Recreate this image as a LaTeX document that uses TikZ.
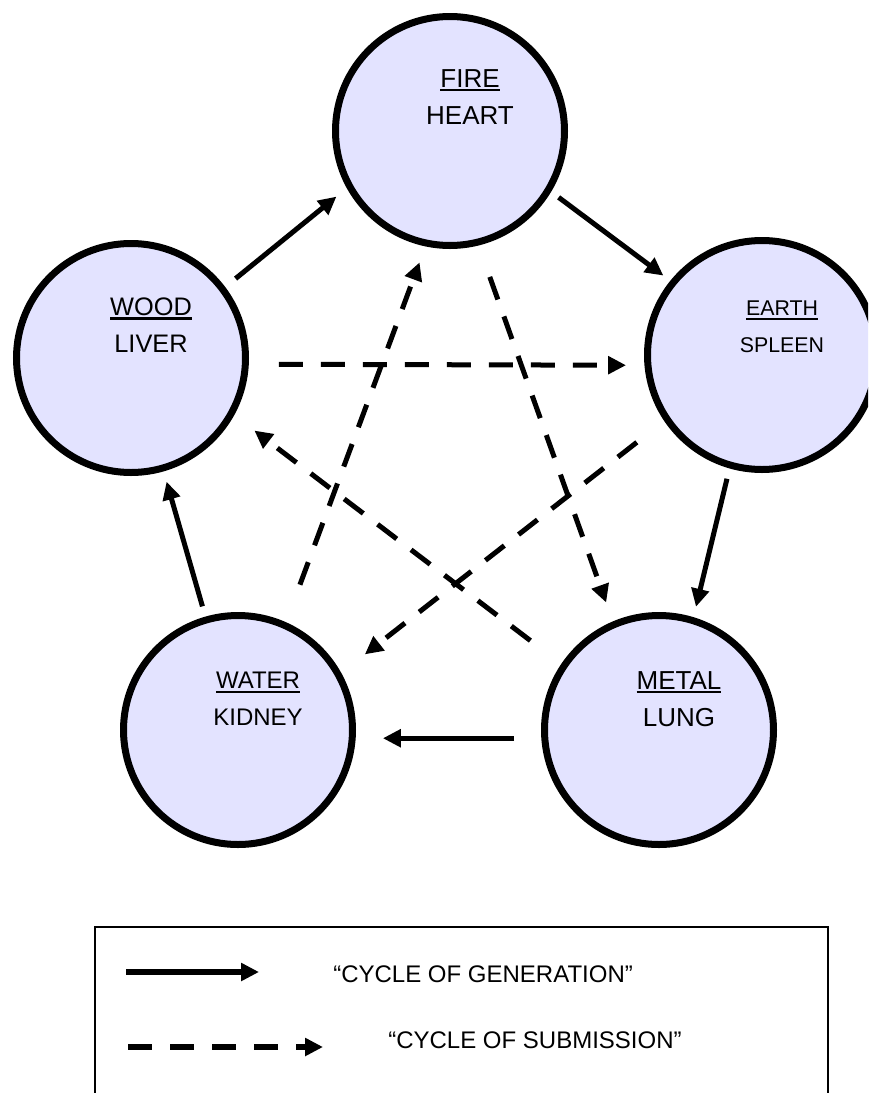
\documentclass[tikz,border=0pt]{standalone}
\usepackage{fontspec}
\setmainfont{Liberation Sans}
\usetikzlibrary{arrows.meta}
\definecolor{elemfill}{RGB}{227,227,255}
\newcommand{\ulword}[1]{\leavevmode\vtop{\hbox{#1}\kern1.5pt\hrule height1.6pt}}

\begin{document}
\begin{tikzpicture}[
    x=0.75pt, y=-0.75pt,
    >={Triangle[length=13.5pt,width=13pt]},
    element/.style={
      circle,
      draw,
      line width=5.25pt,
      fill=elemfill,
      minimum size=171.75pt,
      inner sep=0pt
    },
    elemtext/.style={
      align=center,
      inner sep=0pt
    },
    generation/.style={
      ->,
      line width=3.75pt
    },
    submission/.style={
      ->,
      line width=3.75pt,
      dash pattern=on 18pt off 13.5pt
    }
  ]
    \clip (0,0) rectangle (868,1093);

    \foreach \n/\x/\y/\a/\b/\s/\d in {fire/450/131/FIRE/HEART/19.5/34,
        wood/131/358/WOOD/LIVER/19/33, earth/762/355/EARTH/SPLEEN/16/28,
        water/238/730/WATER/KIDNEY/18/31, metal/659/730/METAL/LUNG/19.5/31}
    {
      \node[element] (\n) at (\x,\y) {};
      \node[elemtext,font=\fontsize{\s}{28}\selectfont] (\n-txt) at (\x+20,\y-\d) {\ulword{\a}\\\b};
    }

    % cycle of generation
    \draw[generation,shorten <=10pt,shorten >=10pt] (wood.37.6) -- (fire.209);
    \draw[generation,shorten <=7pt,shorten >=6.5pt] (fire.329) -- (earth.141);
    \draw[generation,shorten <=8pt,shorten >=8pt] (earth.254) -- (metal.73);
    \draw[generation,shorten <=20.4pt,shorten >=20.4pt] (metal.184) -- (water.356);
    \draw[generation,shorten <=8pt,shorten >=8pt] (water) -- (wood);

    % cycle of submission
    \draw[submission,shorten <=22.5pt,shorten >=13.8pt] (wood.357) -- (earth.185);
    \draw[submission,shorten <=30pt,shorten >=12.75pt] (water.66) -- (fire.258);
    \draw[submission,shorten <=25pt,shorten >=15pt] (fire.284) -- (metal.113);
    \draw[submission,shorten <=26pt,shorten >=22.5pt] (earth.214) -- (water.29);
    \draw[submission,shorten <=29pt,shorten >=19pt] (metal.146) -- (wood.331);

    % legend
    \draw[line width=1.5pt] (95,927) rectangle (828,1120);
    \coordinate (gen-a) at (126,972);
    \coordinate (gen-b) at (259,972);
    \coordinate (sub-a) at (128,1047);
    \coordinate (sub-b) at (323,1047);
    \draw[generation,line width=4.5pt] (gen-a) -- (gen-b);
    \draw[submission,line width=4.5pt] (sub-a) -- (sub-b);
    \node[anchor=west,inner sep=0pt,font=\fontsize{18}{22}\selectfont] (gen-txt) at (333,974) {“CYCLE OF GENERATION”};
    \node[anchor=west,inner sep=0pt,font=\fontsize{18}{22}\selectfont] (sub-txt) at (388,1040) {“CYCLE OF SUBMISSION”};
  \end{tikzpicture}
\end{document}
